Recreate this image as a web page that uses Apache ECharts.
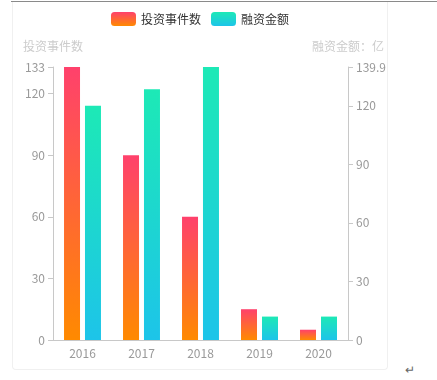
<!DOCTYPE html>
<html>
<head>
<meta charset="utf-8">
<script src="https://cdn.jsdelivr.net/npm/echarts@6/dist/echarts.min.js"></script>
<style>
  html, body { margin: 0; padding: 0; background: #fff; width: 437px; height: 380px; overflow: hidden; position: relative; }
  #topline { position: absolute; left: 11px; top: 1px; width: 426px; height: 1px; background: #8a8a8a; }
  #card { position: absolute; left: 12px; top: 2px; width: 374px; height: 367px; border: 1px solid #f0f0f0; border-top: none; border-radius: 0 0 4px 4px; overflow: hidden; }
  #chart { width: 374px; height: 367px; }
  #ret { position: absolute; left: 405px; top: 360px; font: 12px "Noto Sans CJK SC", sans-serif; color: #666; }
</style>
</head>
<body>
<div id="topline"></div>
<div id="card"><div id="chart"></div></div>
<div id="ret">↵</div>
<script>
const categories = ['2016', '2017', '2018', '2019', '2020'];
const eventCounts = [133, 90, 60, 15, 5];
const financing = [120, 128.5, 139.91, 12, 12];
const seriesNames = ['投资事件数', '融资金额'];
const axisNames = ['投资事件数', '融资金额：亿'];

const font = '"Noto Sans CJK SC", "Microsoft YaHei", sans-serif';
const chart = echarts.init(document.getElementById('chart'), null, { renderer: 'canvas' });
const grad = (a, b) => new echarts.graphic.LinearGradient(0, 0, 0, 1, [
  { offset: 0, color: a }, { offset: 1, color: b }
]);
const axisCommon = {
  type: 'value',
  min: 0,
  interval: 30,
  nameGap: 15,
  nameTextStyle: { color: '#cccccc', fontSize: 12, fontFamily: font },
  axisLine: { show: true, lineStyle: { color: '#c8c8c8' } },
  axisTick: { show: true, length: 5, lineStyle: { color: '#c8c8c8' } },
  axisLabel: { color: '#999999', fontSize: 12, fontFamily: font, margin: 8 },
  splitLine: { show: false }
};
chart.setOption({
  animation: false,
  textStyle: { fontFamily: font },
  legend: {
    top: 5,
    left: 'center',
    itemWidth: 25,
    itemHeight: 14,
    itemGap: 10,
    icon: 'roundRect',
    textStyle: { color: '#333333', fontSize: 12, fontFamily: font },
    data: seriesNames
  },
  grid: { left: 40, right: 39, top: 65, bottom: 29, containLabel: false, outerBoundsMode: 'none' },
  xAxis: {
    type: 'category',
    data: categories,
    axisLine: { lineStyle: { color: '#c8c8c8' } },
    axisTick: { show: false },
    axisLabel: { color: '#999999', fontSize: 12, fontFamily: font, margin: 7 }
  },
  yAxis: [
    Object.assign({}, axisCommon, { name: axisNames[0], max: 133, position: 'left' }),
    Object.assign({}, axisCommon, { name: axisNames[1], max: 139.91, position: 'right' })
  ],
  series: [
    {
      name: seriesNames[0],
      type: 'bar',
      yAxisIndex: 0,
      barWidth: 16,
      barGap: '31%',
      itemStyle: { color: grad('#ff416c', '#ff8a00') },
      data: eventCounts
    },
    {
      name: seriesNames[1],
      type: 'bar',
      yAxisIndex: 1,
      barWidth: 16,
      itemStyle: { color: grad('#1de9b6', '#1dc4e9') },
      data: financing
    }
  ]
});
</script>
</body>
</html>
